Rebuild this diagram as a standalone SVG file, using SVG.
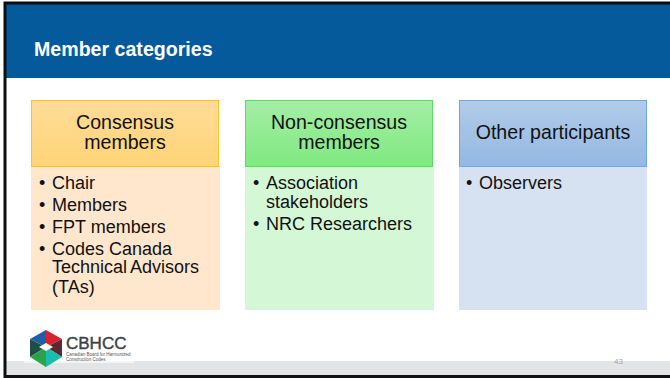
<svg xmlns="http://www.w3.org/2000/svg" width="670" height="378" viewBox="0 0 670 378">
<style>
text{font-family:"Liberation Sans",Arial,sans-serif;fill:#111}
.h{font-size:19.600px;text-anchor:middle}
.b{font-size:18px}
</style>
<defs>
<linearGradient id="g1" x1="0" y1="0" x2="0" y2="1"><stop offset="0" stop-color="#ffdb98"/><stop offset="1" stop-color="#ffd478"/></linearGradient>
<linearGradient id="g2" x1="0" y1="0" x2="0" y2="1"><stop offset="0" stop-color="#a4eea6"/><stop offset="1" stop-color="#7fe97f"/></linearGradient>
<linearGradient id="g3" x1="0" y1="0" x2="0" y2="1"><stop offset="0" stop-color="#b2cbe9"/><stop offset="1" stop-color="#93b8e3"/></linearGradient>
</defs>
<rect width="670" height="378" fill="#fff"/>
<rect x="6" y="361" width="664" height="15" fill="#e3e4e5"/>
<rect x="6" y="4" width="664" height="74" fill="#055a9c"/>
<path d="M5 378V3H670" fill="none" stroke="#0b0f14" stroke-width="3"/>
<path d="M4 376.500H670" stroke="#111" stroke-width="3"/>
<text x="34" y="56" style="font-size:19.600px;font-weight:700;fill:#fff">Member categories</text>
<g id="consensus">
<rect x="31" y="166" width="189" height="144" fill="#ffe7cd"/>
<rect x="31.500" y="100.500" width="187" height="66" fill="url(#g1)" stroke="#ffc31f"/>
<text class="h" x="125" y="129">Consensus</text><text class="h" x="125" y="149">members</text>
<text class="b" x="39" y="189">•</text><text class="b" x="52" y="189">Chair</text>
<text class="b" x="39" y="211">•</text><text class="b" x="52" y="211">Members</text>
<text class="b" x="39" y="233">•</text><text class="b" x="52" y="233">FPT members</text>
<text class="b" x="39" y="255">•</text><text class="b" x="52" y="255">Codes Canada</text>
<text class="b" x="52" y="273" word-spacing="-1">Technical Advisors</text>
<text class="b" x="52" y="293">(TAs)</text>
</g>
<g id="non-consensus">
<rect x="245" y="166" width="189" height="144" fill="#d4f8d6"/>
<rect x="245.500" y="100.500" width="187" height="66" fill="url(#g2)" stroke="#55e060"/>
<text class="h" x="339" y="129">Non-consensus</text><text class="h" x="339" y="149">members</text>
<text class="b" x="253" y="189">•</text><text class="b" x="266" y="189">Association</text>
<text class="b" x="266" y="208">stakeholders</text>
<text class="b" x="253" y="230">•</text><text class="b" x="266" y="230">NRC Researchers</text>
</g>
<g id="other">
<rect x="459" y="166" width="188" height="144" fill="#d6e2f2"/>
<rect x="459.500" y="100.500" width="187" height="66" fill="url(#g3)" stroke="#6ea8e4"/>
<text class="h" x="553" y="139">Other participants</text>
<text class="b" x="466" y="189">•</text><text class="b" x="479" y="189">Observers</text>
</g>
<g id="logo">
<rect x="24" y="328" width="110" height="35" fill="#fff" opacity=".6"/>
<path d="M46 330V347L30 339Z" fill="#1f5fa8"/>
<path d="M46 330V347L62 339Z" fill="#d8232f"/>
<path d="M30 339V357L46 347Z" fill="#1e4f44"/>
<path d="M62 339V357L46 347Z" fill="#5a2a30"/>
<path d="M30 357L46 347V367Z" fill="#2aa34a"/>
<path d="M62 357L46 347V367Z" fill="#19bdb0"/>
<path d="M46 343L53 347L46 351L39 347Z" fill="#fff"/>
<text x="66" y="349" style="font-size:17px;fill:#3c4148;stroke:#3c4148;stroke-width:.4px">CBHCC</text>
<text x="66" y="356" style="font-size:4.500px;fill:#555">Canadian Board for Harmonized</text>
<text x="66" y="360.500" style="font-size:4.500px;fill:#555">Construction Codes</text>
</g>
<text x="614" y="364" style="font-size:8px;fill:#a5a5a5">43</text>
</svg>
